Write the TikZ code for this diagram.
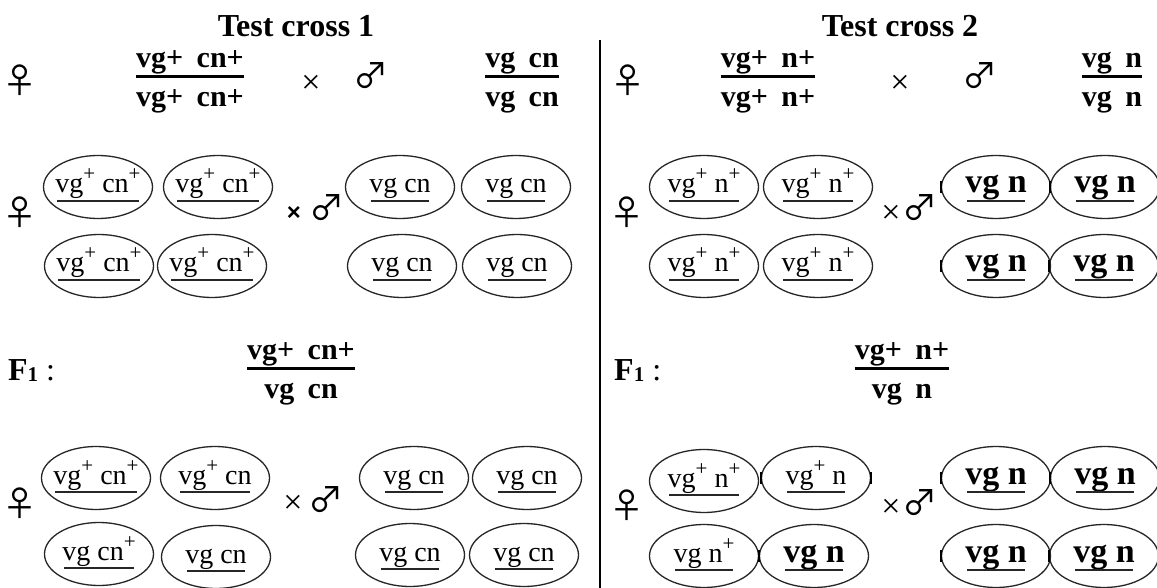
\documentclass[tikz,border=0pt]{standalone}
\usepackage{fontspec}
\setmainfont{Liberation Serif}
\newfontfamily\symfont{DejaVu Sans}
\IfFontExistsTF{Noto Sans CJK JP}
  {\newfontfamily\thinsym{Noto Sans CJK JP}}
  {\newfontfamily\thinsym{DejaVu Sans}}
\newfontfamily\arialfont{Liberation Sans}
\usetikzlibrary{shapes.geometric}

% sex symbol in a light face, falling back to the regular face
\newcommand\sexsym[1]{{\thinsym\fontsize{35}{37}\selectfont
  \iffontchar\font`#1 #1\else\symfont\fontsize{29}{31}\selectfont #1\fi}}

\tikzset{
  gam/.style={ellipse, draw=black!85, line width=1.3pt, minimum width=109pt, minimum height=63pt, inner sep=0pt},
  gtxt/.style={inner sep=0pt, font=\fontsize{28}{30}\selectfont, anchor=base},
  gbold/.style={inner sep=0pt, font=\fontsize{34}{36}\selectfont\bfseries, anchor=base},
  uline/.style={line width=1.3pt, black!85},
  frac/.style={inner sep=0pt, font=\fontsize{30}{32}\selectfont\bfseries, anchor=base},
  fbar/.style={line width=3pt},
  title/.style={inner sep=0pt, font=\fontsize{32}{34}\selectfont\bfseries, anchor=base},
  sex/.style={inner sep=0pt},
  times/.style={inner sep=0pt, font=\fontsize{34}{36}\selectfont},
  btimes/.style={inner sep=0pt, font=\arialfont\bfseries\fontsize{24}{26}\selectfont},
  gen/.style={inner sep=0pt, font=\fontsize{32}{34}\selectfont, anchor=base west},
  tick/.style={line width=2.6pt},
  divider/.style={line width=2.5pt}
}

% gamete: [text style] name, x, y, label
\newcommand\gamete[5][gtxt]{%
  \node[gam] (#2) at (#3,#4) {};
  \node[#1] (#2t) at ([yshift=-6pt]#2.center) {#5};
  \draw[uline] ([xshift=2pt,yshift=-8pt]#2t.base west) -- ([xshift=-2pt,yshift=-8pt]#2t.base east);
}
% genotype fraction: name, x, y of bar, numerator, denominator
\newcommand\genofrac[5]{%
  \node[frac] (#1n) at (#2,#3-9) {#4};
  \node[frac] (#1d) at (#2,#3+30) {#5};
  \draw[fbar] ([yshift=-9pt]#1n.base west) -- ([yshift=-9pt]#1n.base east);
}
% raised plus of a wild-type allele
\newcommand\plussup{\raisebox{12pt}{\fontsize{21}{21}\selectfont +}}
\newcommand\allelegap{\hspace{0.45em}}
\newcommand\Fone{\textbf{F}\raisebox{-1pt}{\fontsize{21}{23}\selectfont\bfseries 1} :}

\begin{document}
\begin{tikzpicture}[x=1pt,y=-1pt]
\fill[white] (0,0) rectangle (1157,588);
\useasboundingbox (0,0) rectangle (1157,588);

% titles and divider
\node[title] (t1) at (296,37) {Test cross 1};
\node[title] (t2) at (900,37) {Test cross 2};
\coordinate (dtop) at (600,40);
\coordinate (dbot) at (600,588);
\draw[divider] (dtop) -- (dbot);

% ---------- Test cross 1 ----------
\node[sex] (pf1) at (20,80) {\sexsym{♀}};
\genofrac{pa}{190}{77}{vg+\allelegap cn+}{vg+\allelegap cn+}
\node[times] (px1) at (311,84) {×};
\node[sex] (pm1) at (371,76) {\sexsym{♂}};
\genofrac{pb}{522}{77}{vg\allelegap cn}{vg\allelegap cn}

\node[sex] (gf1) at (20,212) {\sexsym{♀}};
\gamete{fa1}{98}{187}{vg\plussup{} cn\plussup}
\gamete{fa2}{218}{187}{vg\plussup{} cn\plussup}
\gamete{fa3}{99}{266}{vg\plussup{} cn\plussup}
\gamete{fa4}{212}{266}{vg\plussup{} cn\plussup}
\node[btimes] (gx1) at (294,214) {×};
\node[sex] (gm1) at (327,208) {\sexsym{♂}};
\gamete{ma1}{400}{187}{vg cn}
\gamete{ma2}{516}{187}{vg cn}
\gamete{ma3}{402}{266}{vg cn}
\gamete{ma4}{517}{266}{vg cn}

\node[gen] (fl1) at (8,380) {\Fone};
\genofrac{fa}{301}{368}{vg+\allelegap cn+}{vg\allelegap cn}

\node[sex] (bf1) at (20,503) {\sexsym{♀}};
\gamete{fb1}{96}{478}{vg\plussup{} cn\plussup}
\gamete{fb2}{215}{478}{vg\plussup{} cn}
\gamete{fb3}{99}{554}{vg cn\plussup}
\gamete{fb4}{216}{557}{vg cn}
\node[times] (bx1) at (293,504) {×};
\node[sex] (bm1) at (326,500) {\sexsym{♂}};
\gamete{mb1}{414}{478}{vg cn}
\gamete{mb2}{527}{478}{vg cn}
\gamete{mb3}{410}{555}{vg cn}
\gamete{mb4}{524}{555}{vg cn}

% ---------- Test cross 2 ----------
\node[sex] (pf2) at (628,80) {\sexsym{♀}};
\genofrac{pc}{768}{77}{vg+\allelegap n+}{vg+\allelegap n+}
\node[times] (px2) at (900,84) {×};
\node[sex] (pm2) at (980,76) {\sexsym{♂}};
\genofrac{pd}{1112}{77}{vg\allelegap n}{vg\allelegap n}

\node[sex] (gf2) at (627,212) {\sexsym{♀}};
\gamete{fc1}{704}{187}{vg\plussup{} n\plussup}
\gamete{fc2}{818}{187}{vg\plussup{} n\plussup}
\gamete{fc3}{704}{266}{vg\plussup{} n\plussup}
\gamete{fc4}{818}{266}{vg\plussup{} n\plussup}
\node[times] (gx2) at (891,214) {×};
\node[sex] (gm2) at (920,208) {\sexsym{♂}};
\gamete[gbold]{mc1}{996}{187}{vg n}
\gamete[gbold]{mc2}{1105}{187}{vg n}
\gamete[gbold]{mc3}{996}{266}{vg n}
\gamete[gbold]{mc4}{1104}{266}{vg n}

\node[gen] (fl2) at (614,380) {\Fone};
\genofrac{fb}{902}{368}{vg+\allelegap n+}{vg\allelegap n}

\node[sex] (bf2) at (627,505) {\sexsym{♀}};
\gamete{fd1}{704}{481}{vg\plussup{} n\plussup}
\gamete{fd2}{816}{478}{vg\plussup{} n}
\gamete{fd3}{704}{556}{vg n\plussup}
\gamete[gbold]{fd4}{814}{556}{vg n}
\node[times] (bx2) at (891,508) {×};
\node[sex] (bm2) at (920,503) {\sexsym{♂}};
\gamete[gbold]{md1}{996}{478}{vg n}
\gamete[gbold]{md2}{1105}{478}{vg n}
\gamete[gbold]{md3}{996}{556}{vg n}
\gamete[gbold]{md4}{1104}{556}{vg n}

% heavy marks where outlines overlap
\foreach \e in {mc1,mc2,mc3,mc4,md1,md2,md3,md4,fd2,fd4}
  \draw[tick] ([yshift=6pt]\e.west) -- ([yshift=-6pt]\e.west);
\draw[tick] ([yshift=6pt]fd2.east) -- ([yshift=-6pt]fd2.east);
\end{tikzpicture}
\end{document}
